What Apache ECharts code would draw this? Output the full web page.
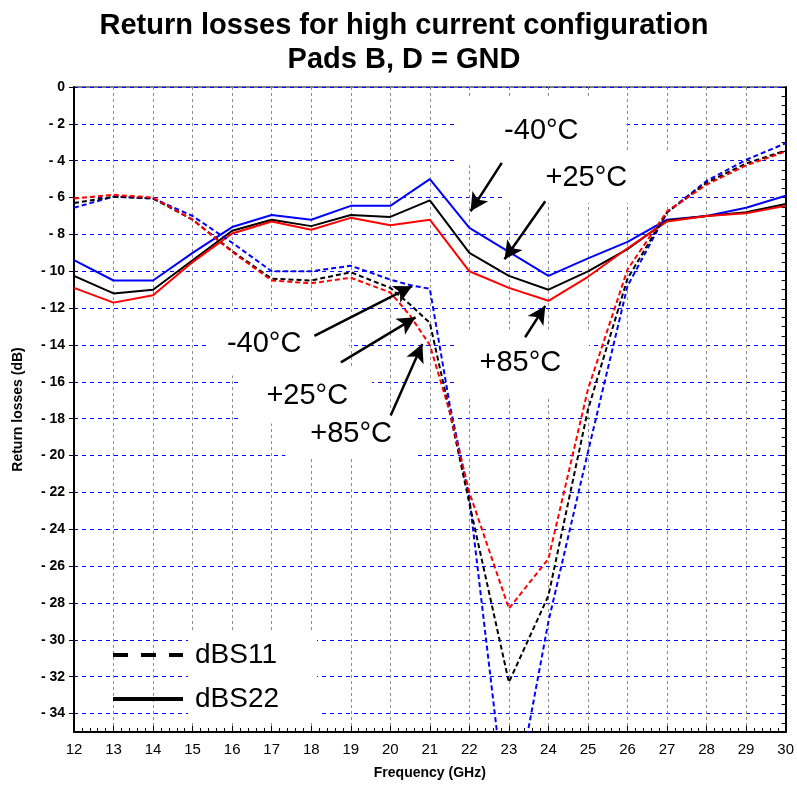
<!DOCTYPE html>
<html>
<head>
<meta charset="utf-8">
<script src="https://cdn.jsdelivr.net/npm/echarts@6/dist/echarts.min.js"></script>
<style>
  html, body { margin: 0; padding: 0; background: #ffffff; }
  #chart { width: 797px; height: 785px; }
</style>
</head>
<body>
<div id="chart"></div>
<script>
// Frequency points (GHz) of the dBS22 sweeps
const freqGHz = [12, 13, 14, 15, 16, 17, 18, 19, 20, 21, 22, 23, 24, 25, 26, 27, 28, 29, 30];
// dBS22 return losses (dB) per temperature
const s22Minus40 = [-9.4, -10.5, -10.5, -9.0, -7.6, -6.95, -7.2, -6.45, -6.45, -5.0, -7.65, -8.95, -10.25, -9.3, -8.4, -7.2, -7.0, -6.55, -5.9];
const s22Plus25  = [-10.25, -11.2, -11.0, -9.4, -7.8, -7.2, -7.55, -6.95, -7.05, -6.15, -9.0, -10.25, -11.0, -10.0, -8.8, -7.25, -7.0, -6.8, -6.35];
const s22Plus85  = [-10.9, -11.7, -11.3, -9.5, -7.95, -7.3, -7.75, -7.1, -7.5, -7.2, -10.0, -10.9, -11.6, -10.3, -8.75, -7.3, -7.0, -6.85, -6.45];

// Frequency points (GHz) of the dBS11 sweeps
const s11FreqGHz = [12, 13, 14, 15, 16, 17, 18, 19, 20, 20.5, 21, 21.5, 22, 23, 24, 25, 26, 27, 28, 29, 30];
// dBS11 return losses (dB) per temperature
const s11Minus40 = [-6.55, -5.95, -6.05, -7.0, -8.45, -10.0, -10.0, -9.7, -10.45, -10.75, -10.95, -17.2, -22.3, -40.5, -29.0, -19.8, -10.8, -6.8, -5.1, -3.95, -3.05];
const s11Plus25  = [-6.3, -5.95, -6.05, -7.2, -8.9, -10.4, -10.5, -10.05, -10.9, -11.8, -12.8, -17.6, -22.6, -32.3, -27.6, -17.5, -10.4, -6.8, -5.2, -4.15, -3.45];
const s11Plus85  = [-6.05, -5.85, -6.0, -7.2, -8.95, -10.5, -10.65, -10.35, -11.15, -12.4, -14.0, -17.6, -22.0, -28.3, -25.6, -16.4, -9.9, -6.75, -5.3, -4.25, -3.5];

// Axis ticks
const yTickValues = [0, -2, -4, -6, -8, -10, -12, -14, -16, -18, -20, -22, -24, -26, -28, -30, -32, -34];
const tempLabels = ['-40°C', '+25°C', '+85°C'];
const legendNames = ['dBS11', 'dBS22'];

const FONT = 'Liberation Sans, Arial, Helvetica, sans-serif';
const COLORS = { m40: '#0000ff', p25: '#000000', p85: '#ff0000' };

function pairs(xs, ys) { return xs.map((x, i) => [x, ys[i]]); }

// Temperature callouts: text anchor and arrow (tail -> tip), in axis units
const callouts = [
  { text: tempLabels[0], at: [23.82, -2.22], pad: [15, 48, 22, 48], tail: [22.82, -4.12], tip: [22.03, -6.74] },
  { text: tempLabels[1], at: [24.96, -4.97], pad: [12, 44, 10, 42], tail: [23.92, -6.2],  tip: [22.89, -9.35] },
  { text: tempLabels[2], at: [23.29, -14.81], pad: [16, 28, 22, 24], tail: [23.41, -13.58], tip: [23.92, -11.88] },
  { text: tempLabels[0], at: [16.81, -13.84], pad: [16, 48, 19, 20], tail: [18.08, -13.51], tip: [20.55, -10.81] },
  { text: tempLabels[1], at: [17.9, -16.49], pad: [8, 24, 18, 25], tail: [18.75, -14.94], tip: [20.64, -12.5] },
  { text: tempLabels[2], at: [19.01, -18.7], pad: [6, 23, 10, 25], tail: [20.01, -17.82], tip: [20.81, -13.95] }
];

const rightTicks = [];
for (let v = 0; v >= -35; v -= 0.5) rightTicks.push(v);

function lineSeries(name, data, color, dashed) {
  return {
    name: name, type: 'line', data: data, symbol: 'none', z: 3,
    lineStyle: { color: color, width: 2, type: dashed ? [5, 3] : 'solid' },
    itemStyle: { color: color },
    emphasis: { disabled: true }, silent: true, animation: false
  };
}

const chart = echarts.init(document.getElementById('chart'), null, { renderer: 'canvas' });

function buildOption(arrowLines) {
  return {
    backgroundColor: '#ffffff',
    animation: false,
    title: {
      text: 'Return losses for high current configuration\nPads B, D = GND',
      left: 399, top: 4, textAlign: 'center',
      textStyle: { fontFamily: FONT, fontWeight: 'bold', fontSize: 29, lineHeight: 34, color: '#000' }
    },
    legend: {
      orient: 'vertical', left: 108, top: 628,
      itemWidth: 70, itemHeight: 4, itemGap: 0, selectedMode: false,
      data: [
        { name: legendNames[0], icon: 'path://M0,0h15v4h-15z M28,0h15v4h-15z M56,0h14v4h-14z' },
        { name: legendNames[1], icon: 'path://M0,0h70v4h-70z' }
      ],
      itemStyle: { color: '#000' },
      textStyle: { fontFamily: FONT, fontSize: 28, color: '#000', backgroundColor: '#ffffff', padding: [8, 40, 8, 7] }
    },
    grid: { left: 74, right: 9, top: 87, bottom: 52, show: true, borderColor: '#000', borderWidth: 1, backgroundColor: 'transparent' },
    xAxis: {
      type: 'value', min: 12, max: 30, interval: 1,
      name: 'Frequency (GHz)', nameLocation: 'middle', nameGap: 34,
      nameTextStyle: { fontFamily: FONT, fontWeight: 'bold', fontSize: 14, color: '#000' },
      axisLine: { show: true, onZero: false, lineStyle: { color: '#000', width: 2 } },
      axisTick: { show: true, inside: true, length: 6, lineStyle: { color: '#000' } },
      minorTick: { show: true, splitNumber: 5, length: 4, lineStyle: { color: '#000' } },
      axisLabel: { fontFamily: FONT, fontSize: 15, color: '#000', margin: 10 },
      splitLine: { show: true, lineStyle: { color: '#8c8c8c', width: 1, type: [3, 3] } }
    },
    yAxis: [
      {
        type: 'value', min: -35, max: 0,
        name: 'Return losses (dB)', nameLocation: 'middle', nameGap: 49, nameRotate: 90,
        nameTextStyle: { fontFamily: FONT, fontWeight: 'bold', fontSize: 14, color: '#000' },
        axisLine: { show: true, onZero: false, lineStyle: { color: '#000', width: 2 } },
        axisTick: { show: true, inside: false, length: 5, customValues: yTickValues, lineStyle: { color: '#000' } },
        axisLabel: {
          customValues: yTickValues, fontFamily: FONT, fontWeight: 'bold', fontSize: 14, color: '#000', margin: 9,
          formatter: v => (v === 0 ? '0' : '- ' + Math.abs(v))
        },
        splitLine: { show: true, lineStyle: { color: '#0000ff', width: 1, type: [4, 4] } }
      },
      {
        type: 'value', min: -35, max: 0, position: 'right',
        axisLine: { show: true, onZero: false, lineStyle: { color: '#000', width: 2 } },
        axisTick: { show: true, inside: true, length: 4, customValues: rightTicks, lineStyle: { color: '#000' } },
        axisLabel: { show: false },
        splitLine: { show: false }
      }
    ],
    series: [
      lineSeries('S22 -40°C', pairs(freqGHz, s22Minus40), COLORS.m40, false),
      lineSeries('S22 +25°C', pairs(freqGHz, s22Plus25), COLORS.p25, false),
      lineSeries('S22 +85°C', pairs(freqGHz, s22Plus85), COLORS.p85, false),
      lineSeries('S11 -40°C', pairs(s11FreqGHz, s11Minus40), COLORS.m40, true),
      lineSeries('S11 +25°C', pairs(s11FreqGHz, s11Plus25), COLORS.p25, true),
      lineSeries('S11 +85°C', pairs(s11FreqGHz, s11Plus85), COLORS.p85, true),
      // legend entries
      { name: legendNames[0], type: 'line', data: [], symbol: 'none', lineStyle: { color: '#000' }, itemStyle: { color: '#000' } },
      { name: legendNames[1], type: 'line', data: [], symbol: 'none', lineStyle: { color: '#000' }, itemStyle: { color: '#000' } },
      // temperature callouts
      {
        name: 'callouts', type: 'scatter', z: 1, silent: true, symbolSize: 0,
        itemStyle: { opacity: 1 },
        data: callouts.map(c => {
          const p = c.pad;
          return {
            value: c.at,
            label: {
              show: true, position: 'inside', formatter: c.text,
              fontFamily: FONT, fontSize: 29, color: '#000',
              backgroundColor: '#ffffff', padding: p,
              offset: [(p[1] - p[3]) / 2, (p[2] - p[0]) / 2]
            }
          };
        }),
        markLine: {
          silent: true, animation: false, symbol: ['none', 'arrow'], symbolSize: [14, 18],
          label: { show: false },
          lineStyle: { color: '#000', width: 2.5, type: 'solid', opacity: 1 },
          emphasis: { disabled: true },
          data: arrowLines
        }
      }
    ]
  };
}

// Arrow shafts run from the tail to the arrowhead tip
const arrowLines = callouts.map(c => [{ coord: c.tail }, { coord: c.tip }]);
chart.setOption(buildOption(arrowLines));
</script>
</body>
</html>
